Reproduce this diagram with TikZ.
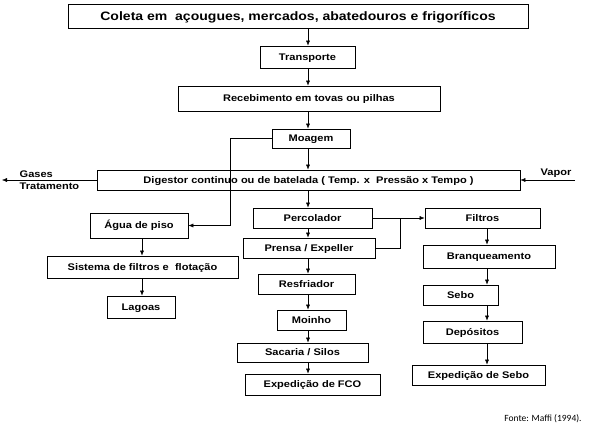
\documentclass[tikz,border=0pt]{standalone}
\usepackage{fontspec}
\setmainfont{Liberation Sans}
\newfontfamily\bxf{Liberation Sans}[FakeStretch=1.15]
\newfontfamily\carl{Carlito}
\usetikzlibrary{arrows.meta}
\begin{document}
\begin{tikzpicture}[x=1pt,y=-1pt,
 bx/.style={draw,thick,inner sep=0},
 tx/.style={inner sep=0,font=\bxf\bfseries\fontsize{9.6}{11}\selectfont},
 ar/.style={-{Latex[length=5pt,width=4pt]}}]
\useasboundingbox (0,0) rectangle (600,432);
\newcommand\bx[6]{\node[bx,minimum width=#4-#2,minimum height=#5-#3] (#1) at ({(#2+#4)/2},{(#3+#5)/2}) {};\node[tx,anchor=base] (#1t) at ([yshift=-3.4pt]#1.center) {#6};}
\node[bx,minimum width=460,minimum height=24] (col) at (298,16) {};
\node[tx,anchor=base,font=\bxf\bfseries\fontsize{12.2}{14}\selectfont] (colt) at ([yshift=-4.3pt]col.center) {Coleta em\ \ açougues, mercados, abatedouros e frigoríficos};
\bx{tra}{260}{46}{355}{68}{Transporte}
\bx{rec}{178}{86}{440}{111}{Recebimento em tovas ou pilhas}
\bx{moa}{272}{129}{350}{148}{Moagem}
\bx{dig}{97}{170}{520}{190}{Digestor continuo ou de batelada ( Temp. x\ \ Pressão x Tempo )}
\bx{per}{253}{208}{372}{228}{Percolador}
\bx{fil}{425}{208}{540}{228}{Filtros}
\bx{pre}{243}{238}{375}{258}{Prensa / Expeller}
\bx{agu}{90}{213}{188}{238}{Água de piso}
\bx{sis}{47}{256}{238}{278}{Sistema de filtros e\ \ flotação}
\bx{lag}{107}{296}{175}{318}{Lagoas}
\bx{res}{258}{274}{355}{294}{Resfriador}
\bx{moi}{277}{310}{346}{330}{Moinho}
\bx{sac}{237}{343}{368}{362}{Sacaria / Silos}
\bx{efc}{245}{374}{380}{395}{Expedição de FCO}
\bx{bra}{423}{245}{555}{268}{Branqueamento}
\bx{seb}{423}{285}{498}{305}{Sebo}
\bx{dep}{423}{321}{522}{343}{Depósitos}
\bx{ese}{412}{365}{545}{385}{Expedição de Sebo}
\coordinate (g) at (2,180);
\coordinate (v) at (575,180);
\coordinate (pj) at (400,218);
\begin{scope}[every path/.style={ar}]
\draw (col.south -| 308,0) -- (tra.north -| 308,0);
\draw (tra.south -| 308,0) -- (rec.north -| 308,0);
\draw (rec.south -| 308,0) -- (moa.north -| 308,0);
\draw (moa.south -| 308,0) -- (dig.north -| 308,0);
\draw (dig.south -| 308,0) -- (per.north -| 308,0);
\draw (per.south -| 308,0) -- (pre.north -| 308,0);
\draw (pre.south -| 308,0) -- (res.north -| 308,0);
\draw (res.south -| 308,0) -- (moi.north -| 308,0);
\draw (moi.south -| 308,0) -- (sac.north -| 308,0);
\draw (sac.south -| 308,0) -- (efc.north -| 308,0);
\draw (fil.south -| 487,0) -- (bra.north -| 487,0);
\draw (bra.south -| 487,0) -- (seb.north -| 487,0);
\draw (seb.south -| 487,0) -- (dep.north -| 487,0);
\draw (dep.south -| 487,0) -- (ese.north -| 487,0);
\draw (agu.south -| 142,0) -- (sis.north -| 142,0);
\draw (sis.south -| 142,0) -- (lag.north -| 142,0);
\draw (moa.west) -- (230,138.5) |- (agu.east);
\draw (per.east) -- (fil.west);
\draw (dig.west) -- (g);
\draw (v) -- (dig.east);
\end{scope}
\draw (pre.east) -| (pj);
\node[tx,anchor=south west,inner sep=1.5] (gas) at (18,179) {Gases};
\node[tx,anchor=north west,inner sep=1.5] (trt) at (18,181) {Tratamento};
\node[tx,anchor=south,inner sep=1.5] (vap) at (556,179) {Vapor};
\node[font=\carl\fontsize{9.5}{11}\selectfont] (fon) at (543,419) {Fonte: Maffi (1994).};
\end{tikzpicture}
\end{document}
